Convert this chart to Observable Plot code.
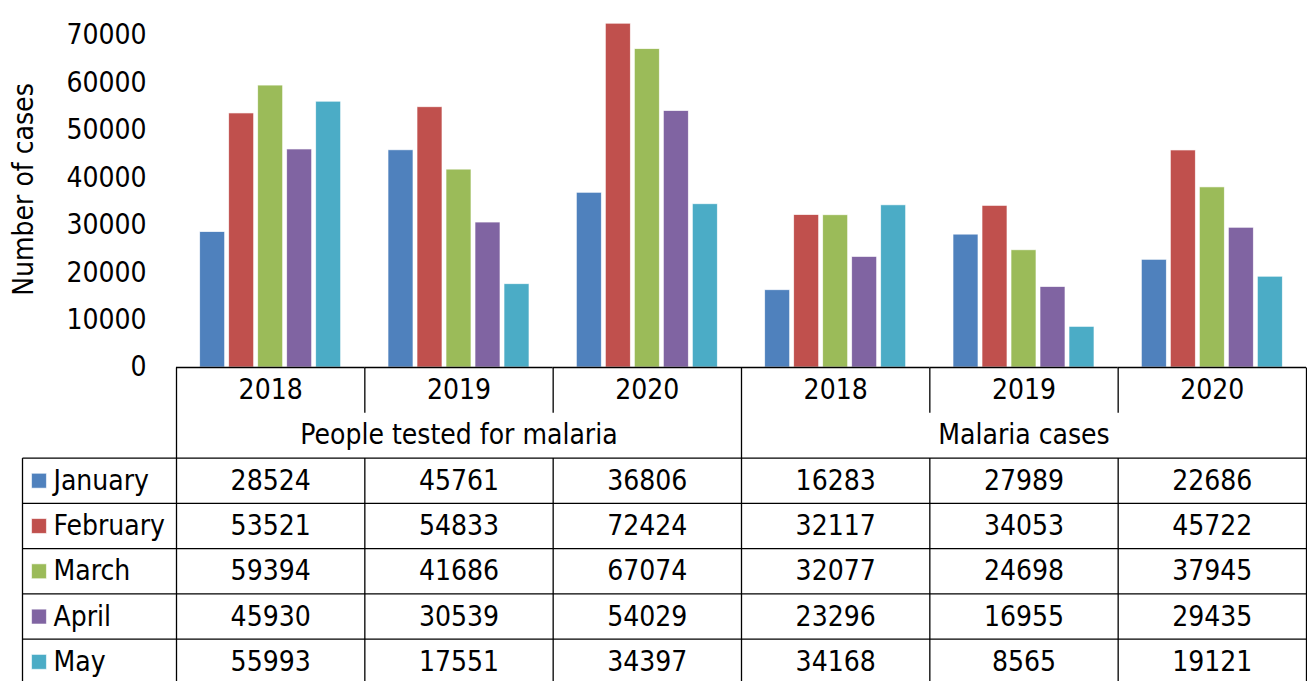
<!DOCTYPE html>
<html>
<head>
<meta charset="utf-8">
<script src="https://cdn.jsdelivr.net/npm/d3@7"></script>
<script src="https://cdn.jsdelivr.net/npm/@observablehq/plot@0.6"></script>
<style>
  html, body { margin: 0; padding: 0; background: #fff; overflow: hidden; }
  #wrap { position: relative; width: 1307px; height: 681px; }
  #wrap > svg { position: absolute; left: 0; top: 0; }
</style>
</head>
<body>
<div id="wrap"></div>
<script>
// ---- data ----
const categories = ["People tested for malaria", "Malaria cases"];
const years = ["2018", "2019", "2020"];
const months = ["January", "February", "March", "April", "May"];
const colors = ["#4F81BD", "#C0504D", "#9BBB59", "#8064A2", "#4BACC6"];
const january  = [28524, 45761, 36806, 16283, 27989, 22686];
const february = [53521, 54833, 72424, 32117, 34053, 45722];
const march    = [59394, 41686, 67074, 32077, 24698, 37945];
const april    = [45930, 30539, 54029, 23296, 16955, 29435];
const may      = [55993, 17551, 34397, 34168, 8565, 19121];
const yTicks = [0, 10000, 20000, 30000, 40000, 50000, 60000, 70000];

const series = [january, february, march, april, may];
const groups = categories.flatMap(c => years.map(y => ({key: c + "|" + y, category: c, year: y})));
const data = [];
months.forEach((m, mi) => groups.forEach((g, gi) => data.push({key: g.key, month: m, value: series[mi][gi], gi, mi})));

const FONT = "'DejaVu Sans Condensed', 'DejaVu Sans', sans-serif";
const FS = 28;
const LINE = {stroke: "#000", strokeWidth: 1.3};

// ---- chart (bars + value axis) ----
const chart = Plot.plot({
  width: 1307, height: 400,
  marginLeft: 176, marginRight: 1, marginTop: 11, marginBottom: 33,
  style: {background: "transparent", fontFamily: FONT, fontSize: FS + "px", color: "#000"},
  fx: {domain: groups.map(g => g.key), padding: 0, round: false, axis: null, label: null},
  x: {domain: months, paddingInner: 0.138, paddingOuter: 0.816, round: false, axis: null},
  y: {domain: [0, 75000]},
  color: {domain: months, range: colors},
  marks: [
    Plot.barY(data, {fx: "key", x: "month", y: "value", fill: "month", stroke: "#ffffff", strokeWidth: 0.8, strokeOpacity: 0.8}),
    Plot.ruleY([0], LINE),
    Plot.axisY({ticks: yTicks, tickSize: 0, tickPadding: 30, tickFormat: d3.format("d"), fontSize: FS,
      label: null}),
    Plot.axisY({ticks: [], tickSize: 0, label: "Number of cases", labelAnchor: "center", labelOffset: 163, labelArrow: "none", fontSize: FS}),
    Plot.ruleX([0], {frameAnchor: "left", ...LINE, facet: "exclude"})
  ]
});

// ---- category axis + data table ----
const legendLeft = -154 / 188.33; // legend column left edge, in column units
const lines = [];
// horizontal row lines
for (let r = 2; r <= 7; r++) lines.push({x1: legendLeft, x2: groups.length, y1: r, y2: r});
// legend column left border
lines.push({x1: legendLeft, x2: legendLeft, y1: 2, y2: 7});
// column boundaries
for (let i = 0; i <= groups.length; i++) {
  if (i % years.length === 0) lines.push({x1: i, x2: i, y1: 0, y2: 7});
  else { lines.push({x1: i, x2: i, y1: 0, y2: 1}); lines.push({x1: i, x2: i, y1: 2, y2: 7}); }
}

const yearLabels = groups.map((g, gi) => ({x: gi + 0.5, y: 0.5, text: g.year}));
const catLabels = categories.map((c, ci) => ({x: ci * years.length + years.length / 2, y: 1.5, text: c}));
const cellText = data.map(d => ({x: d.gi + 0.5, y: d.mi + 2.5, text: String(d.value)}));
const legendRows = months.map((m, mi) => ({x: legendLeft, y: mi + 2.5, month: m}));

const table = Plot.plot({
  width: 1307, height: 684,
  style: {background: "transparent", fontFamily: FONT, fontSize: FS + "px", color: "#000"},
  x: {domain: [legendLeft, groups.length], range: [22, 1306], axis: null},
  y: {domain: [0, 7], range: [367, 684], axis: null},
  color: {domain: months, range: colors},
  marks: [
    Plot.link(lines, {x1: "x1", x2: "x2", y1: "y1", y2: "y2", ...LINE}),
    Plot.text(yearLabels, {x: "x", y: "y", text: "text", fontSize: FS, fill: "#000"}),
    Plot.text(catLabels, {x: "x", y: "y", text: "text", fontSize: FS, fill: "#000"}),
    Plot.text(cellText, {x: "x", y: "y", text: "text", fontSize: FS, fill: "#000"}),
    Plot.dot(legendRows, {x: "x", y: "y", dx: 16.5, symbol: "square", r: 8.4, fill: "month", stroke: "#ffffff", strokeWidth: 0.6}),
    Plot.text(legendRows, {x: "x", y: "y", dx: 31, text: "month", textAnchor: "start", fontSize: FS, fill: "#000"})
  ]
});

const wrap = document.getElementById("wrap");
wrap.appendChild(table);
wrap.appendChild(chart);
</script>
</body>
</html>
